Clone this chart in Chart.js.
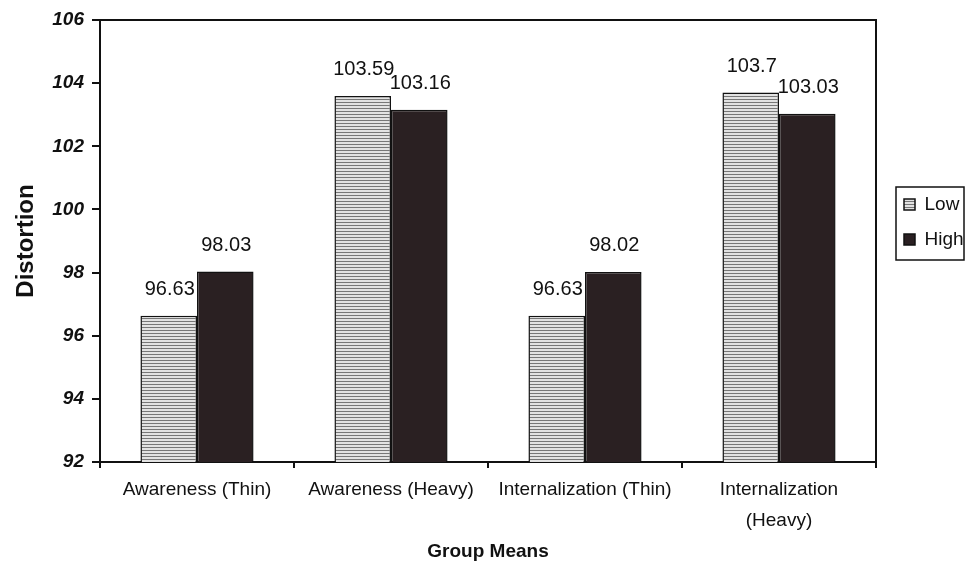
<!DOCTYPE html>
<html>
<head>
<meta charset="utf-8">
<script src="https://cdn.jsdelivr.net/npm/chart.js@4"></script>
<style>
  html, body { margin: 0; padding: 0; background: #fff; }
  #wrap { width: 966px; height: 566px; }
</style>
</head>
<body>
<div id="wrap"><canvas id="meansChart"></canvas></div>
<script>
// Group means
const categories = [
  "Awareness (Thin)",
  "Awareness (Heavy)",
  "Internalization (Thin)",
  ["Internalization", "(Heavy)"]
];
const lowValues = [96.63, 103.59, 96.63, 103.7];
const highValues = [98.03, 103.16, 98.02, 103.03];
const lowLabels = ["96.63", "103.59", "96.63", "103.7"];
const highLabels = ["98.03", "103.16", "98.02", "103.03"];
const yTicks = [92, 94, 96, 98, 100, 102, 104, 106];

const FONT = "'Liberation Sans', Arial, sans-serif";

// Horizontal stripe fill for the "Low" bars
function stripes() {
  const c = document.createElement("canvas");
  c.width = 8; c.height = 3;
  const g = c.getContext("2d");
  g.fillStyle = "#e2e2e2";
  g.fillRect(0, 0, 8, 3);
  g.fillStyle = "#777";
  g.fillRect(0, 0, 8, 1);
  return g.createPattern(c, "repeat");
}
const lowFill = stripes();

// Value labels above each bar
const valueLabels = {
  id: "valueLabels",
  afterDatasetsDraw(chart) {
    const ctx = chart.ctx;
    ctx.save();
    ctx.font = "20px " + FONT;
    ctx.fillStyle = "#111";
    ctx.textAlign = "center";
    ctx.textBaseline = "alphabetic";
    [lowLabels, highLabels].forEach((labels, i) => {
      chart.getDatasetMeta(i).data.forEach((bar, j) => {
        ctx.fillText(labels[j], bar.x + 1, bar.y - 21);
      });
    });
    ctx.restore();
  }
};

// Legend sits in a small box to the right of the plot
const legendBox = {
  id: "legendBox",
  afterInit(chart) {
    const lg = chart.legend;
    const fit = lg.fit.bind(lg);
    lg.fit = function () { fit(); this.width = 90; };
  },
  afterLayout(chart) {
    const lg = chart.legend;
    lg.left = 904 - lg.options.labels.padding;
    lg.top = 179;
  },
  afterDraw(chart) {
    const ctx = chart.ctx;
    const a = chart.chartArea;
    ctx.save();
    ctx.strokeStyle = "#111";
    ctx.lineWidth = 2;
    ctx.beginPath();
    ctx.moveTo(a.left, a.top);
    ctx.lineTo(a.right, a.top);
    ctx.lineTo(a.right, a.bottom);
    ctx.stroke();
    ctx.lineWidth = 1.5;
    ctx.strokeRect(896, 187, 68, 73);
    ctx.restore();
  }
};

new Chart(document.getElementById("meansChart").getContext("2d"), {
  type: "bar",
  data: {
    labels: categories,
    datasets: [
      {
        label: "Low",
        data: lowValues,
        backgroundColor: lowFill,
        borderColor: "#111",
        borderWidth: 1.5,
        borderSkipped: false
      },
      {
        label: "High",
        data: highValues,
        backgroundColor: "#2a2022",
        borderColor: "#111",
        borderWidth: 1.5,
        borderSkipped: false
      }
    ]
  },
  options: {
    responsive: true,
    maintainAspectRatio: false,
    animation: false,
    layout: { padding: { top: 20, right: 0, bottom: 0, left: 0 } },
    datasets: { bar: { categoryPercentage: 0.583, barPercentage: 1 } },
    plugins: {
      tooltip: { enabled: false },
      legend: {
        position: "right",
        align: "start",
        labels: {
          boxWidth: 11,
          boxHeight: 11,
          padding: 16,
          color: "#111",
          font: { size: 19, family: FONT }
        }
      }
    },
    scales: {
      x: {
        afterFit(axis) { axis.height = 104; },
        grid: { display: true, drawOnChartArea: false, color: "#111", tickLength: 6, lineWidth: 2 },
        border: { color: "#111", width: 2 },
        ticks: {
          color: "#111",
          padding: 7,
          maxRotation: 0,
          font: { size: 19, family: FONT, lineHeight: 1.6 }
        },
        title: {
          display: true,
          text: "Group Means",
          color: "#111",
          padding: { top: 0, bottom: 3 },
          font: { size: 19, weight: "bold", family: FONT }
        }
      },
      y: {
        min: 92,
        max: 106,
        afterFit(axis) { axis.width = 100; },
        afterBuildTicks(axis) { axis.ticks = yTicks.map(v => ({ value: v })); },
        grid: { display: true, drawOnChartArea: false, color: "#111", tickLength: 8, lineWidth: 2 },
        border: { color: "#111", width: 2 },
        ticks: {
          color: "#111",
          padding: 8,
          font: { size: 19, weight: "bold", style: "italic", family: FONT }
        },
        title: {
          display: true,
          text: "Distortion",
          color: "#111",
          padding: { top: 12, bottom: 0 },
          font: { size: 24, weight: "bold", family: FONT }
        }
      }
    }
  },
  plugins: [valueLabels, legendBox]
});
</script>
</body>
</html>
